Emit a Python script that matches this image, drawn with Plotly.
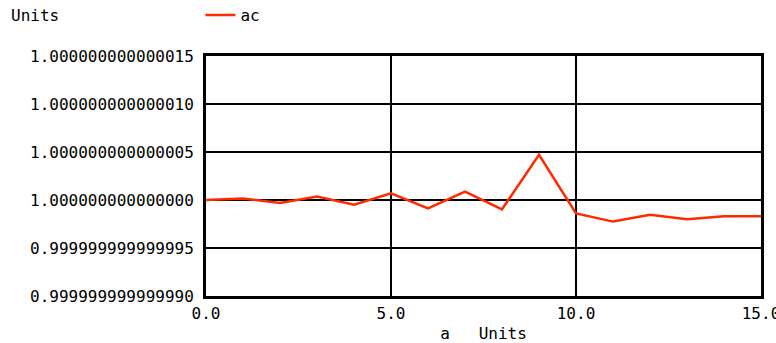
import plotly.graph_objects as go

# sweep variable a and the ac response, stored as deviation from 1 in units of 1e-15
a_values = [0, 1, 2, 3, 4, 5, 6, 7, 8, 9, 10, 11, 12, 13, 14, 15]
ac_offset_e15 = [0.0, 0.15, -0.3, 0.35, -0.5, 0.7, -0.87, 0.87, -0.97, 4.7,
                 -1.4, -2.25, -1.55, -2.0, -1.7, -1.7]

y_tick_vals = [-10, -5, 0, 5, 10, 15]
y_tick_text = ["0.999999999999990", "0.999999999999995", "1.000000000000000",
               "1.000000000000005", "1.000000000000010", "1.000000000000015"]
x_tick_vals = [0, 5, 10, 15]
x_tick_text = ["0.0", "5.0", "10.0", "15.0"]

FONT = "DejaVu Sans Mono"
FS = 16

fig = go.Figure()
fig.add_trace(go.Scatter(
    x=a_values, y=ac_offset_e15, mode="lines", name="ac",
    line=dict(color="#ff2a00", width=2.5),
))

fig.update_layout(
    width=776, height=343,
    margin=dict(l=206, r=15, t=56, b=47, autoexpand=False),
    paper_bgcolor="white", plot_bgcolor="white",
    font=dict(family=FONT, size=FS, color="black"),
    showlegend=True,
    legend=dict(orientation="h", x=-0.01, xanchor="left", y=1.17, yanchor="middle",
                font=dict(family=FONT, size=FS), bgcolor="rgba(0,0,0,0)"),
    xaxis=dict(
        range=[0, 15], tickvals=x_tick_vals, ticktext=x_tick_text,
        showgrid=True, gridcolor="black", gridwidth=2,
        showline=True, linecolor="black", linewidth=3, mirror=True,
        zeroline=False, ticks="", ticklabelstandoff=1, ticklabeloverflow="allow",
        title=dict(text="a   Units", font=dict(family=FONT, size=FS), standoff=8),
    ),
    yaxis=dict(
        range=[-10, 15], tickvals=y_tick_vals, ticktext=y_tick_text,
        showgrid=True, gridcolor="black", gridwidth=2,
        showline=True, linecolor="black", linewidth=3, mirror=True,
        zeroline=False, ticks="", ticklabelstandoff=6,
    ),
    annotations=[dict(
        text="Units", xref="paper", yref="paper", x=-0.355, y=1.17,
        xanchor="left", yanchor="middle", showarrow=False,
        font=dict(family=FONT, size=FS),
    )],
)

fig.write_html("out.html")
